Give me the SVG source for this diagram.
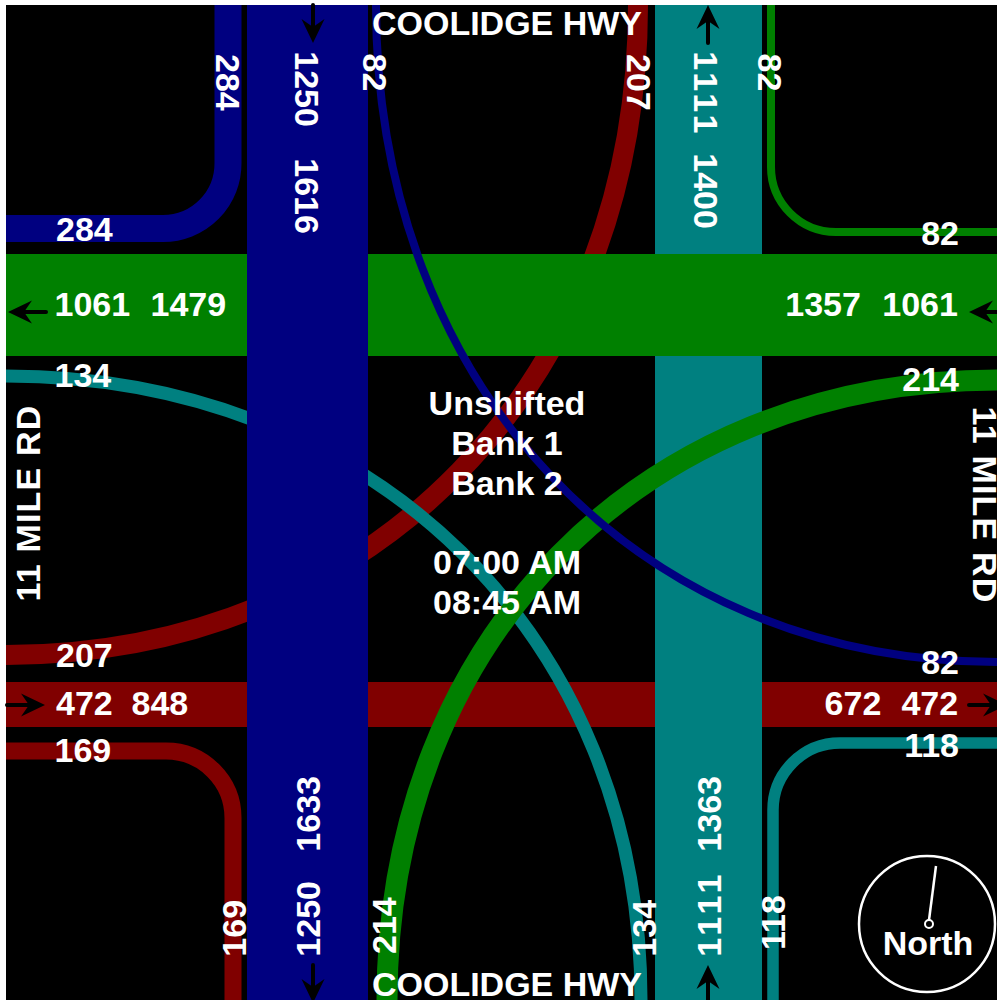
<svg xmlns="http://www.w3.org/2000/svg" xmlns:xlink="http://www.w3.org/1999/xlink" width="997" height="1000" viewBox="0 0 997 1000">
<style>
.t{font-family:"Liberation Sans",Arial,sans-serif;font-weight:bold;font-size:34px;fill:#fff}
.m{text-anchor:middle}
.e{text-anchor:end}
.ls{letter-spacing:1.2px}
.w1{letter-spacing:4px}
.turn{fill:none;stroke-linecap:butt}
.red{stroke:#800000}
.teal{stroke:#008080}
.green{stroke:#008000}
.blue{stroke:#000080}
</style>
<defs>
<g id="arrow">
<path d="M-38,0 H-14" stroke="#000" stroke-width="4" stroke-linecap="round"/>
<path d="M0,0 L-24,-11.5 L-16,0 L-24,11.5 Z" fill="#000"/>
</g>
</defs>
<rect x="0" y="0" width="997" height="1000" fill="#fff"/>
<rect x="6" y="5" width="991" height="995" fill="#000"/>

<g id="eastbound-red">
<rect x="6" y="682" width="991" height="45" fill="#800000"/>
<path class="turn red" stroke-width="20" d="M638,5 C638,382 372.6,655 6,655"/>
<path class="turn red" stroke-width="17" d="M6,751 H166 A67,67 0 0 1 233,818 V1000"/>
</g>

<g id="northbound-teal">
<rect x="655" y="5" width="107" height="995" fill="#008080"/>
<path class="turn teal" stroke-width="13" d="M6,376 C374,376 641,638 641,1000"/>
<path class="turn teal" stroke-width="11.5" d="M997,743 H840 A67,67 0 0 0 773,810 V1000"/>
</g>

<g id="westbound-green">
<rect x="6" y="254" width="991" height="102" fill="#008000"/>
<path class="turn green" stroke-width="21" d="M387,1000 C387,640 643,380 997,380"/>
<path class="turn green" stroke-width="8" d="M771,5 V167 A65,65 0 0 0 836,232 H997"/>
</g>

<g id="southbound-blue">
<rect x="247" y="5" width="121" height="995" fill="#000080"/>
<path class="turn blue" stroke-width="27" d="M228,5 V163 A65,65 0 0 1 163,228.5 H6"/>
<path class="turn blue" stroke-width="8" d="M376,5 C376,386 637,662 997,662"/>
</g>

<g id="connectors">
<use xlink:href="#arrow" transform="translate(313,43) rotate(90)"/>
<use xlink:href="#arrow" transform="translate(708,5) rotate(-90)"/>
<use xlink:href="#arrow" transform="translate(8,312) rotate(180)"/>
<use xlink:href="#arrow" transform="translate(969,312) rotate(180)"/>
<use xlink:href="#arrow" transform="translate(45,705)"/>
<use xlink:href="#arrow" transform="translate(1007,705)"/>
<use xlink:href="#arrow" transform="translate(313,1003) rotate(90)"/>
<use xlink:href="#arrow" transform="translate(708,965) rotate(-90)"/>
</g>

<g id="labels-horizontal" class="t">
<text x="56" y="241">284</text>
<text x="54.5" y="316">1061 <tspan x="150.5">1479</tspan></text>
<text x="54.5" y="387">134</text>
<text x="56" y="667">207</text>
<text x="56" y="715">472 <tspan x="131.5">848</tspan></text>
<text x="54.5" y="762">169</text>
<text class="e" x="959" y="245">82</text>
<text x="785.3" y="316">1357 <tspan x="882.3">1061</tspan></text>
<text class="e" x="959" y="391">214</text>
<text class="e" x="959" y="674">82</text>
<text x="824.6" y="715">672 <tspan x="901.4">472</tspan></text>
<text class="e" x="959" y="757">118</text>
</g>

<g id="labels-vertical" class="t">
<text transform="translate(228,0) rotate(90)" x="54" y="12.2">284</text>
<text transform="translate(307,0) rotate(90)" x="51.3" y="12.2">1250 <tspan x="158.3">1616</tspan></text>
<text transform="translate(375.5,0) rotate(90)" x="53.6" y="12.2">82</text>
<text transform="translate(639,0) rotate(90)" x="54" y="12.2">207</text>
<text transform="translate(706.5,0) rotate(90)" x="51.3" y="12.2"><tspan class="w1">1111</tspan> <tspan x="153.3">1400</tspan></text>
<text transform="translate(770,0) rotate(90)" x="53.6" y="12.2">82</text>
<text transform="translate(234,0) rotate(-90)" x="-956.7" y="12.2">169</text>
<text transform="translate(307.5,0) rotate(-90)" x="-956.7" y="12.2">1250 <tspan x="-851.7">1633</tspan></text>
<text transform="translate(384,0) rotate(-90)" x="-954" y="12.2">214</text>
<text transform="translate(644,0) rotate(-90)" x="-956.7" y="12.2">134</text>
<text transform="translate(709,0) rotate(-90)" x="-956.7" y="12.2"><tspan class="w1">1111</tspan> <tspan x="-851.7">1363</tspan></text>
<text transform="translate(772.5,0) rotate(-90)" x="-950" y="12.2">118</text>
</g>

<g id="road-names" class="t m">
<text x="507" y="35">COOLIDGE HWY</text>
<text x="507" y="996">COOLIDGE HWY</text>
<text class="ls" transform="translate(28,503) rotate(-90)" y="12.2">11 MILE RD</text>
<text class="ls" transform="translate(985,505) rotate(90)" y="12.2">11 MILE RD</text>
</g>

<g id="center-info" class="t m">
<text x="507" y="415">Unshifted</text>
<text x="507" y="455">Bank 1</text>
<text x="507" y="495">Bank 2</text>
<text x="507" y="574">07:00 AM</text>
<text x="507" y="614">08:45 AM</text>
</g>

<g id="north-arrow">
<circle cx="927" cy="924" r="68" fill="none" stroke="#fff" stroke-width="2.5"/>
<line x1="929" y1="920" x2="936" y2="866" stroke="#fff" stroke-width="2.5"/>
<circle cx="929" cy="924" r="4" fill="#000" stroke="#fff" stroke-width="2"/>
<text class="t m" x="928" y="955">North</text>
</g>
</svg>
